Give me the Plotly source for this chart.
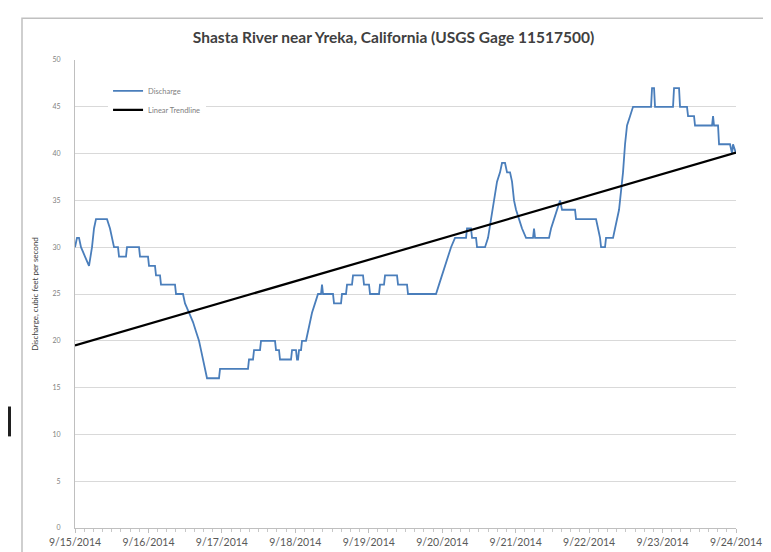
import pandas as pd
import plotly.graph_objects as go

# discharge breakpoints: hours after 9/15/2014 00:00, cfs
hours = [0, 0.65, 1.31, 1.96, 3.27, 4.58, 5.56, 6.21, 6.86, 10.46, 11.44, 12.09, 12.75,
         14.05, 14.38, 16.67, 16.99, 20.92, 21.24, 23.86, 24.18, 26.14, 26.47, 27.78, 28.10,
         32.68, 33.01, 35.29, 35.95, 37.26, 38.56, 39.54, 40.52, 41.18, 41.83, 42.48, 43.14,
         47.06, 47.39, 56.54, 56.86, 58.17, 58.50, 60.46, 60.78, 65.36, 65.69, 66.67, 66.99,
         70.59, 70.92, 72.22, 72.55, 72.88, 73.20, 73.86, 74.18, 75.49, 76.14, 76.80, 77.45,
         78.43, 79.41, 80.39, 80.72, 81.05, 84.31, 84.64, 86.93, 87.25, 88.56, 88.89, 90.52,
         90.85, 94.12, 94.44, 96.08, 96.41, 99.35, 99.67, 100.98, 101.31, 105.23, 105.56,
         108.50, 108.82, 117.97, 118.95, 119.93, 120.92, 121.90, 122.88, 124.18, 127.78,
         128.10, 129.41, 129.74, 131.05, 131.37, 133.99, 134.97, 135.95, 136.93, 137.91,
         138.89, 139.54, 140.52, 141.18, 142.16, 142.81, 143.46, 144.12, 145.10, 146.08,
         147.39, 149.67, 150.00, 150.33, 154.90, 155.56, 156.54, 157.52, 158.50, 159.15,
         163.40, 163.73, 170.26, 170.92, 171.57, 171.90, 173.20, 173.53, 175.82, 176.47,
         177.12, 177.78, 178.43, 179.08, 179.74, 180.39, 181.37, 182.35, 188.24, 188.56,
         189.22, 189.54, 195.42, 195.75, 197.39, 197.71, 199.99, 200.33, 202.29, 202.61,
         208.17, 208.50, 208.82, 210.13, 210.46, 214.05, 214.71, 215.03, 216.01]
discharge = [30, 31, 31, 30, 29, 28, 30, 32, 33, 33, 32, 31, 30,
             30, 29, 29, 30, 30, 29, 29, 28, 28, 27, 27, 26,
             26, 25, 25, 24, 23, 22, 21, 20, 19, 18, 17, 16,
             16, 17, 17, 18, 18, 19, 19, 20, 20, 19, 19, 18,
             18, 19, 19, 18, 18, 19, 19, 20, 20, 21, 22, 23,
             24, 25, 25, 26, 25, 25, 24, 24, 25, 25, 26, 26,
             27, 27, 26, 26, 25, 25, 26, 26, 27, 27, 26,
             26, 25, 25, 26, 27, 28, 29, 30, 31, 31,
             32, 32, 31, 31, 30, 30, 31, 33, 35, 37,
             38, 39, 39, 38, 38, 37, 35, 34, 33, 32,
             31, 31, 32, 31, 31, 32, 33, 34, 35, 34,
             34, 33, 33, 32, 31, 30, 30, 31, 31, 32,
             33, 34, 36, 38, 41, 43, 44, 45, 45, 47,
             47, 45, 45, 47, 47, 45, 45, 44, 44, 43,
             43, 44, 43, 43, 41, 41, 40, 41, 40]

# linear trendline end values
trend_dates = ["2014-09-15", "2014-09-24"]
trend_values = [19.5, 40.1]

start = pd.Timestamp("2014-09-15")
dates = start + pd.to_timedelta(hours, unit="h")

fig = go.Figure()
fig.add_trace(go.Scatter(name="Discharge", x=dates, y=discharge, mode="lines",
                         line=dict(color="#4a7ebb", width=1.8), legendgroup="a"))
fig.add_trace(go.Scatter(name="Linear Trendline", x=pd.to_datetime(trend_dates), y=trend_values,
                         mode="lines", line=dict(color="black", width=2.2), legendgroup="b"))

# chart frame, right-side grey strip and small black mark at left edge
W, L, T, H = 661, 67, 52, 470
def px(x):
    return (x - L) / W
def py(y):
    return (T + H - y) / H
fig.add_shape(type="rect", xref="paper", yref="paper", x0=px(14), x1=px(765), y0=py(551), y1=py(10),
              line=dict(color="#c0c0c0", width=1.5), layer="below")
fig.add_shape(type="rect", xref="paper", yref="paper", x0=px(766), x1=px(771), y0=py(552), y1=py(0),
              fillcolor="#e6e6e6", line=dict(width=0), layer="below")
fig.add_shape(type="rect", xref="paper", yref="paper", x0=px(0), x1=px(3), y0=py(430), y1=py(400),
              fillcolor="#202020", line=dict(width=0))

fig.update_layout(
    width=771, height=552,
    margin=dict(l=67, r=43, t=52, b=30),
    paper_bgcolor="white", plot_bgcolor="white",
    font=dict(family="Lato", color="#595959"),
    title=dict(text="<b>Shasta River near Yreka, California (USGS Gage 11517500)</b>",
               x=0.5, xref="container", y=1 - 30 / 552, yanchor="middle",
               font=dict(size=15.5, color="#404040", family="Lato")),
    showlegend=True,
    legend=dict(x=0.05, y=0.965, xanchor="left", yanchor="top", bgcolor="white",
                font=dict(size=7.5, color="#7f7f7f"), tracegroupgap=0, itemwidth=30),
)
fig.update_xaxes(
    range=[pd.Timestamp("2014-09-15"), pd.Timestamp("2014-09-24")],
    tickformat="%-m/%-d/%Y", dtick=86400000, tick0="2014-09-15",
    showgrid=False, showline=True, linecolor="#bfbfbf", linewidth=1,
    ticks="outside", ticklen=4, tickcolor="#bfbfbf",
    minor=dict(ticks="outside", ticklen=3, dtick=3 * 3600000, tickcolor="#c8c8c8"),
    tickfont=dict(size=10.5, color="#595959"), fixedrange=True,
)
fig.update_yaxes(
    range=[0, 50], dtick=5, showgrid=True, gridcolor="#d9d9d9", gridwidth=1,
    showline=True, linecolor="#bfbfbf", zeroline=False,
    ticks="", ticklabelstandoff=12,
    tickfont=dict(size=7, color="#7f7f7f"),
    title=dict(text="Discharge, cubic feet per second", font=dict(size=8, color="#404040"), standoff=12),
)

fig.write_html("out.html")
